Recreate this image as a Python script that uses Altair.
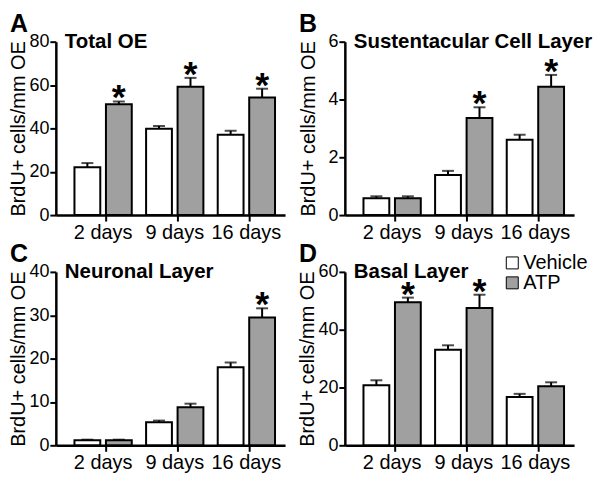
import altair as alt
import pandas as pd

days = ["2 days", "9 days", "16 days"]
groups = ["Vehicle", "ATP"]

total_veh = [22.1, 39.8, 37.1]
total_veh_err = [1.9, 1.3, 1.8]
total_atp = [51.1, 59.2, 54.2]
total_atp_err = [1.3, 4.1, 4.1]
total_sig = [True, True, True]

sust_veh = [0.58, 1.39, 2.61]
sust_veh_err = [0.07, 0.14, 0.17]
sust_atp = [0.58, 3.36, 4.44]
sust_atp_err = [0.07, 0.37, 0.41]
sust_sig = [False, True, True]

neur_veh = [1.15, 5.3, 18.0]
neur_veh_err = [0.15, 0.4, 1.1]
neur_atp = [1.15, 8.8, 29.5]
neur_atp_err = [0.15, 0.8, 2.1]
neur_sig = [False, False, True]

basal_veh = [20.8, 33.1, 16.7]
basal_veh_err = [1.7, 1.5, 1.1]
basal_atp = [49.5, 47.5, 20.4]
basal_atp_err = [1.6, 4.6, 1.4]
basal_sig = [True, True, False]

FONT = "Liberation Sans"
GRAY = "#a0a0a0"
W, H = 230, 174


def make_df(veh, veh_err, atp, atp_err, sig):
    rows = []
    for i, d in enumerate(days):
        rows.append(dict(day=d, group="Vehicle", mean=veh[i], top=veh[i] + veh_err[i], star=""))
        rows.append(dict(day=d, group="ATP", mean=atp[i], top=atp[i] + atp_err[i],
                         star="*" if sig[i] else ""))
    return pd.DataFrame(rows)


def panel(letter, name, df, ymax, ystep, show_legend, title_pad):
    x = alt.X("day:N", sort=days, title=None,
              scale=alt.Scale(paddingInner=0.2, paddingOuter=0.2, align=0.65),
              axis=alt.Axis(labelAngle=0, bandPosition=0.55, labelPadding=1, labelFontSize=20))
    xo = alt.XOffset("group:N", sort=groups,
                     scale=alt.Scale(domain=groups, paddingInner=0.18, paddingOuter=0))
    yscale = alt.Scale(domain=[0, ymax], nice=False, zero=True)
    yaxis = alt.Axis(values=list(range(0, ymax + 1, ystep)), title="BrdU+ cells/mm OE",
                     titlePadding=title_pad, labelPadding=1, labelFontSize=18)
    if show_legend:
        leg = alt.Legend(orient="none", legendX=158, legendY=-19, title=None,
                         symbolType="square", symbolSize=144, symbolStrokeColor="black",
                         symbolStrokeWidth=1, labelFontSize=20, labelFont=FONT,
                         labelColor="black", rowPadding=0, labelOffset=1)
    else:
        leg = None
    fill = alt.Fill("group:N", sort=groups,
                    scale=alt.Scale(domain=groups, range=["white", GRAY]), legend=leg)
    base = alt.Chart(df)
    bars = base.mark_bar(stroke="black", strokeWidth=2).encode(
        x=x, xOffset=xo, y=alt.Y("mean:Q", scale=yscale, axis=yaxis), fill=fill)
    err = base.mark_rule(color="black", strokeWidth=2).encode(
        x=x, xOffset=xo, y=alt.Y("mean:Q", scale=yscale, axis=yaxis), y2="top:Q")
    cap = base.mark_tick(color="black", thickness=2, size=12).encode(
        x=x, xOffset=xo, y=alt.Y("top:Q", scale=yscale, axis=yaxis))
    stars = base.transform_filter("datum.star != ''").mark_text(
        fontSize=36, fontWeight="bold", font=FONT, baseline="alphabetic",
        dy=8, color="black").encode(
        x=x, xOffset=xo, y=alt.Y("top:Q", scale=yscale, axis=yaxis), text="star:N")
    label = alt.Chart(pd.DataFrame({"t": [name]})).mark_text(
        align="left", baseline="middle", fontSize=20.5, fontWeight="bold", font=FONT,
        color="black").encode(x=alt.value(9), y=alt.value(0), text="t:N")
    tag = alt.Chart(pd.DataFrame({"t": [letter]})).mark_text(
        align="left", baseline="top", fontSize=25, fontWeight="bold", font=FONT,
        color="black").encode(x=alt.value(-46), y=alt.value(-30), text="t:N")
    return alt.layer(bars, err, cap, stars, label, tag).properties(width=W, height=H)


pA = panel("A", "Total OE", make_df(total_veh, total_veh_err, total_atp, total_atp_err, total_sig),
           80, 20, False, 0)
pB = panel("B", "Sustentacular Cell Layer",
           make_df(sust_veh, sust_veh_err, sust_atp, sust_atp_err, sust_sig), 6, 2, False, 9)
pC = panel("C", "Neuronal Layer", make_df(neur_veh, neur_veh_err, neur_atp, neur_atp_err, neur_sig),
           40, 10, False, 0)
pD = panel("D", "Basal Layer", make_df(basal_veh, basal_veh_err, basal_atp, basal_atp_err, basal_sig),
           60, 20, True, 0)

chart = alt.concat(pA, pB, pC, pD, columns=2, spacing={"row": 0, "column": 12}).resolve_legend(
    fill="independent").resolve_scale(fill="independent").configure_view(stroke=None).configure_axis(
    domainColor="black", domainWidth=2.5, tickColor="black", tickWidth=2, tickSize=6,
    labelFont=FONT, labelColor="black", titleFont=FONT, titleFontSize=20,
    titleFontWeight="normal", titleColor="black", grid=False).properties(
    padding={"top": 3, "left": 0, "right": 0, "bottom": 0})

chart.save("out.html", embed_options={"renderer": "svg", "actions": False})
